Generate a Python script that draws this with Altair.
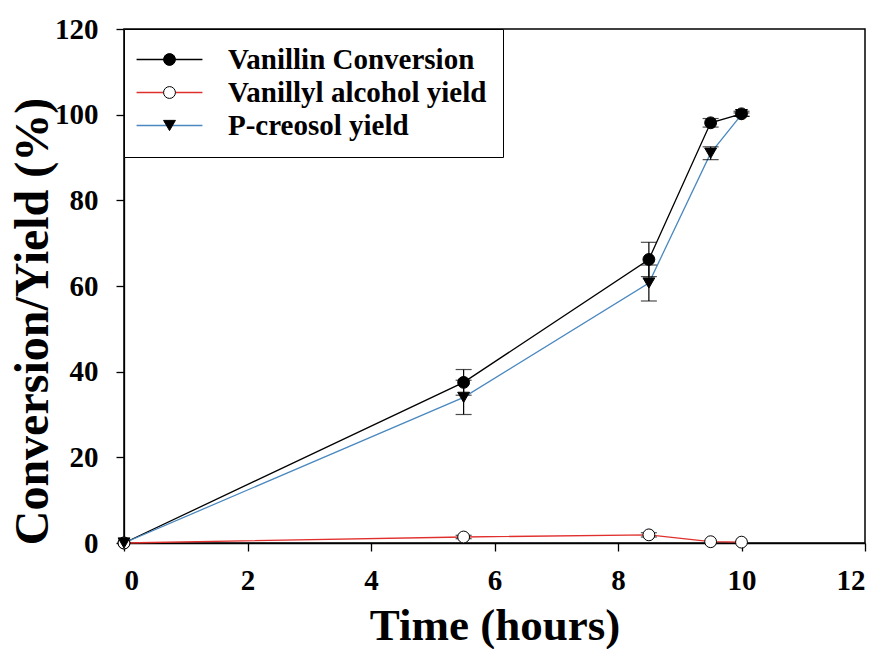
import altair as alt
import pandas as pd

# ---- data ----
time = [0, 5.5, 8.5, 9.5, 10]
series_names = ["Vanillin Conversion", "Vanillyl alcohol yield", "P-creosol yield"]
vanillin = [0, 37.5, 66.2, 98.1, 100.2]
vanillin_err = [0, 3.0, 4.0, 1.0, 0.6]
alcohol = [0, 1.4, 1.9, 0.3, 0.2]
alcohol_err = [0, 0.4, 0.5, 0, 0]
creosol = [0, 34.0, 60.7, 91.0, 100.0]
creosol_err = [0, 4.0, 4.2, 1.5, 0.4]

x_ticks = [0, 2, 4, 6, 8, 10, 12]
y_ticks = [0, 20, 40, 60, 80, 100, 120]

line_colors = ["#000000", "#e0302e", "#4a88c0"]
marker_fills = ["#000000", "#ffffff", "#000000"]
marker_shapes = ["circle", "circle", "triangle-down"]

rows = []
for name, vals, errs in zip(series_names, [vanillin, alcohol, creosol],
                            [vanillin_err, alcohol_err, creosol_err]):
    for t, v, e in zip(time, vals, errs):
        rows.append({"time": t, "value": v, "err": e, "lo": v - e, "hi": v + e,
                     "series": name, "marker": name})
df = pd.DataFrame(rows)

FONT = "Liberation Serif"
LBL = 29
LEG = 29

# shared legend layout so that the line legend and the marker legend overlay exactly
leg_common = dict(orient="none", legendX=0, legendY=0, title=None,
                  labelFont=FONT, labelFontWeight="bold", labelFontSize=LEG,
                  labelLimit=1000, labelOffset=44, rowPadding=3, padding=16,
                  symbolOffset=15)

x_enc = alt.X("time:Q", scale=alt.Scale(domain=[0, 12], nice=False),
              axis=alt.Axis(values=x_ticks, title="Time (hours)", format="d"))
y_enc = alt.Y("value:Q", scale=alt.Scale(domain=[0, 120], nice=False),
              axis=alt.Axis(values=y_ticks, title="Conversion/Yield (%)", format="d",
                            titleY=292))

base = alt.Chart(df)

lines = base.mark_line(strokeWidth=1.3).encode(
    x=x_enc, y=y_enc,
    stroke=alt.Stroke("series:N", sort=series_names,
                      scale=alt.Scale(range=line_colors),
                      legend=alt.Legend(symbolType="M-2.44,0H2.44", symbolSize=729,
                                        symbolStrokeWidth=1.3, labelColor="black",
                                        strokeColor="black", fillColor="white",
                                        **leg_common)),
)

err_df = base.transform_filter("datum.err > 0")

bars = err_df.mark_rule(color="black", strokeWidth=1.2).encode(
    x="time:Q", y="lo:Q", y2="hi:Q")

caps = err_df.transform_fold(["lo", "hi"], as_=["end", "cap"]).mark_tick(
    orient="horizontal", color="black", size=16, thickness=1.2).encode(
    x="time:Q", y="cap:Q")

open_name = series_names[marker_fills.index("#ffffff")]

points = base.mark_point(filled=True, size=140, stroke="black", strokeWidth=1,
                         opacity=1).encode(
    x="time:Q", y="value:Q",
    fill=alt.Fill("marker:N", sort=series_names, scale=alt.Scale(range=marker_fills),
                  legend=None),
    shape=alt.Shape("marker:N", sort=series_names, scale=alt.Scale(range=marker_shapes),
                    legend=alt.Legend(symbolSize=140, symbolStrokeColor="black",
                                      symbolStrokeWidth=1, labelOpacity=0,
                                      symbolOpacity=1,
                                      symbolFillColor=alt.ExprRef(
                                          expr=f"datum.value === '{open_name}' ? 'white' : 'black'"),
                                      **leg_common)),
)

chart = alt.layer(lines, bars, caps, points).properties(
    width=741, height=514,
    autosize=alt.AutoSizeParams(type="none"),
    padding={"left": 116, "top": 21, "right": 8, "bottom": 106},
).configure_view(stroke="black", strokeWidth=1.5).configure_axis(
    grid=False,
    domainColor="black", domainWidth=1.3,
    tickColor="black", tickSize=8, tickWidth=1.3,
    labelFont=FONT, labelFontWeight="bold", labelFontSize=LBL, labelColor="black",
    titleFont=FONT, titleFontWeight="bold", titleColor="black",
).configure_axisX(
    labelPadding=15, titleFontSize=45, titlePadding=8,
).configure_axisY(
    labelPadding=18, titleFontSize=48, titlePadding=-3,
)

chart.save("out.html", embed_options={"renderer": "svg", "actions": False})
